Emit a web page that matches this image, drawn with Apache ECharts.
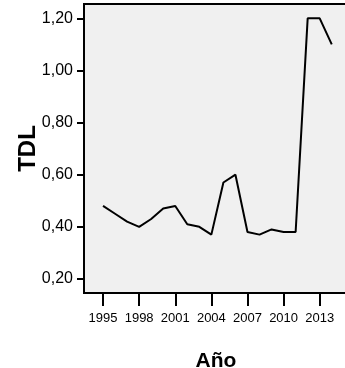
<!DOCTYPE html>
<html><head><meta charset="utf-8">
<script src="https://cdn.jsdelivr.net/npm/echarts@6/dist/echarts.min.js"></script>
<style>html,body{margin:0;padding:0;background:#fff}#c{width:345px;height:368px}</style>
</head><body><div id="c"></div>
<script>
const years = [1995,1996,1997,1998,1999,2000,2001,2002,2003,2004,2005,2006,2007,2008,2009,2010,2011,2012,2013,2014];
const tdl = [0.48,0.45,0.42,0.40,0.43,0.47,0.48,0.41,0.40,0.37,0.57,0.60,0.38,0.37,0.39,0.38,0.38,1.20,1.20,1.10];
const xTicks = [1995,1998,2001,2004,2007,2010,2013];
const yTicks = [0.2,0.4,0.6,0.8,1.0,1.2];
const xName = 'Año';
const yName = 'TDL';

const chart = echarts.init(document.getElementById('c'), null, {renderer:'canvas'});
chart.setOption({
  animation:false,
  grid:{left:84,top:4,right:-3,bottom:75,show:true,backgroundColor:'#f0f0f0',borderColor:'#000',borderWidth:2,containLabel:false,outerBoundsMode:'none'},
  xAxis:{type:'value',min:1993.42,max:2015.35,
    name:xName,nameLocation:'middle',nameGap:58,nameMoveOverlap:false,
    nameTextStyle:{fontFamily:'Liberation Sans, Arial, sans-serif',fontWeight:'bold',fontSize:21,color:'#000'},
    axisLine:{show:false},splitLine:{show:false},
    axisTick:{show:true,customValues:xTicks,length:13,lineStyle:{color:'#000',width:2}},
    axisLabel:{customValues:xTicks,margin:19,fontFamily:'Liberation Sans, Arial, sans-serif',fontSize:13,color:'#000',formatter:v=>String(v)}
  },
  yAxis:{type:'value',min:0.146,max:1.255,
    name:yName,nameLocation:'middle',nameGap:44,nameRotate:90,nameMoveOverlap:false,
    nameTextStyle:{fontFamily:'Liberation Sans, Arial, sans-serif',fontWeight:'bold',fontSize:24,color:'#000'},
    axisLine:{show:false},splitLine:{show:false},
    axisTick:{show:true,customValues:yTicks,length:7,lineStyle:{color:'#000',width:2}},
    axisLabel:{customValues:yTicks,margin:11,fontFamily:'Liberation Sans, Arial, sans-serif',fontSize:16,color:'#000',formatter:v=>v.toFixed(2).replace('.',',')}
  },
  series:[{type:'line',data:years.map((y,i)=>[y,tdl[i]]),showSymbol:false,symbol:'none',lineStyle:{color:'#000',width:2},clip:true}]
});
</script></body></html>
